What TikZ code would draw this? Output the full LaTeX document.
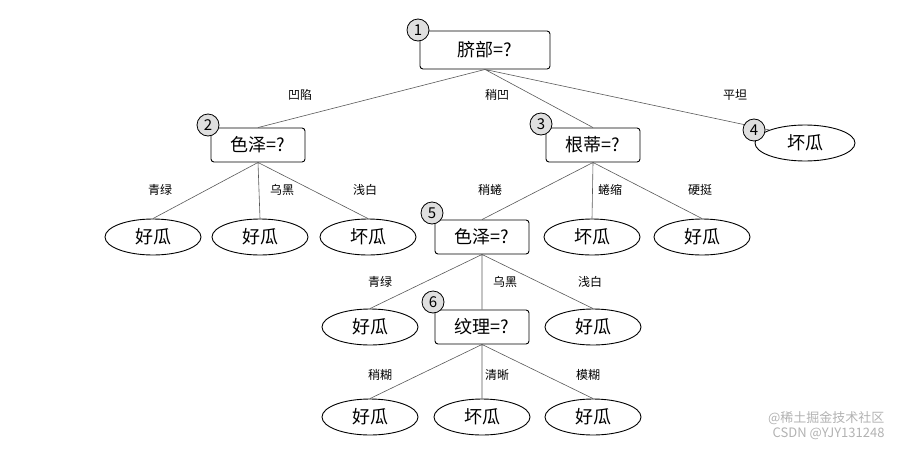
\documentclass[tikz,border=0pt]{standalone}
\usepackage{fontspec}
\setmainfont{Noto Sans CJK SC}
\usetikzlibrary{shapes.geometric}
\begin{document}
\begin{tikzpicture}[x=1pt,y=-1pt,
 q/.style={draw,rounded corners=3pt,minimum width=94pt,minimum height=34pt,font=\fontsize{18}{20}\selectfont,inner sep=2pt,line width=0.9pt},
 q1/.style={q,minimum width=130pt,minimum height=38pt},
 leaf/.style={draw,ellipse,minimum width=96pt,minimum height=36pt,font=\fontsize{18}{20}\selectfont,inner sep=0pt,line width=0.9pt},
 num/.style={draw,circle,fill=gray!25,minimum size=22pt,inner sep=0pt,font=\fontsize{15}{16}\selectfont,line width=0.8pt},
 lab/.style={font=\fontsize{12}{14}\selectfont,fill=white,inner sep=1pt},
 e/.style={draw,line width=0.6pt,gray!70!black}]
\useasboundingbox (0,0) rectangle (901,450);
\node[q1] (n1) at (485,50) {脐部=?};
\node[q] (n2) at (258,145) {色泽=?};
\node[q] (n3) at (593,145) {根蒂=?};
\node[leaf,minimum width=100pt] (n4) at (805,143) {坏瓜};
\node[leaf] (a1) at (153,237) {好瓜};
\node[leaf] (a2) at (260,237) {好瓜};
\node[leaf] (a3) at (368,237) {坏瓜};
\node[q] (n5) at (482,237) {色泽=?};
\node[leaf] (b2) at (592,237) {坏瓜};
\node[leaf] (b3) at (702,237) {好瓜};
\node[leaf] (c1) at (370,327) {好瓜};
\node[q] (n6) at (482,327) {纹理=?};
\node[leaf] (c3) at (593,327) {好瓜};
\node[leaf] (d1) at (370,417) {好瓜};
\node[leaf] (d2) at (482,417) {坏瓜};
\node[leaf] (d3) at (593,417) {好瓜};
\path[e] (n1.south) -- (n2.north) (n1.south) -- (n3.north) (n1.south) -- (n4.north west);
\path[e] (n2.south) -- (a1.north) (n2.south) -- (a2.north) (n2.south) -- (a3.north);
\path[e] (n3.south) -- (n5.north) (n3.south) -- (b2.north) (n3.south) -- (b3.north);
\path[e] (n5.south) -- (c1.north) (n5.south) -- (n6.north) (n5.south) -- (c3.north);
\path[e] (n6.south) -- (d1.north) (n6.south) -- (d2.north) (n6.south) -- (d3.north);
\node[lab] (l1) at (300,95) {凹陷};
\node[lab] (l2) at (497,95) {稍凹};
\node[lab] (l3) at (735,95) {平坦};
\node[lab] (l4) at (160,190) {青绿};
\node[lab] (l5) at (282,190) {乌黑};
\node[lab] (l6) at (365,190) {浅白};
\node[lab] (l7) at (490,190) {稍蜷};
\node[lab] (l8) at (610,190) {蜷缩};
\node[lab] (l9) at (700,190) {硬挺};
\node[lab] (l10) at (380,282) {青绿};
\node[lab] (l11) at (505,282) {乌黑};
\node[lab] (l12) at (590,282) {浅白};
\node[lab] (l13) at (380,375) {稍糊};
\node[lab] (l14) at (497,375) {清晰};
\node[lab] (l15) at (588,375) {模糊};
\node[num] (k1) at (418,30) {1};
\node[num] (k2) at (208,125) {2};
\node[num] (k3) at (541,124) {3};
\node[num] (k4) at (754,130) {4};
\node[num] (k5) at (432,213) {5};
\node[num] (k6) at (433,302) {6};
\node[gray!60,font=\fontsize{13}{14}\selectfont,anchor=east] (w1) at (888,418) {@稀土掘金技术社区};
\node[gray!60,font=\fontsize{13}{14}\selectfont,anchor=east] (w2) at (888,434) {CSDN @YJY131248};
\end{tikzpicture}
\end{document}
